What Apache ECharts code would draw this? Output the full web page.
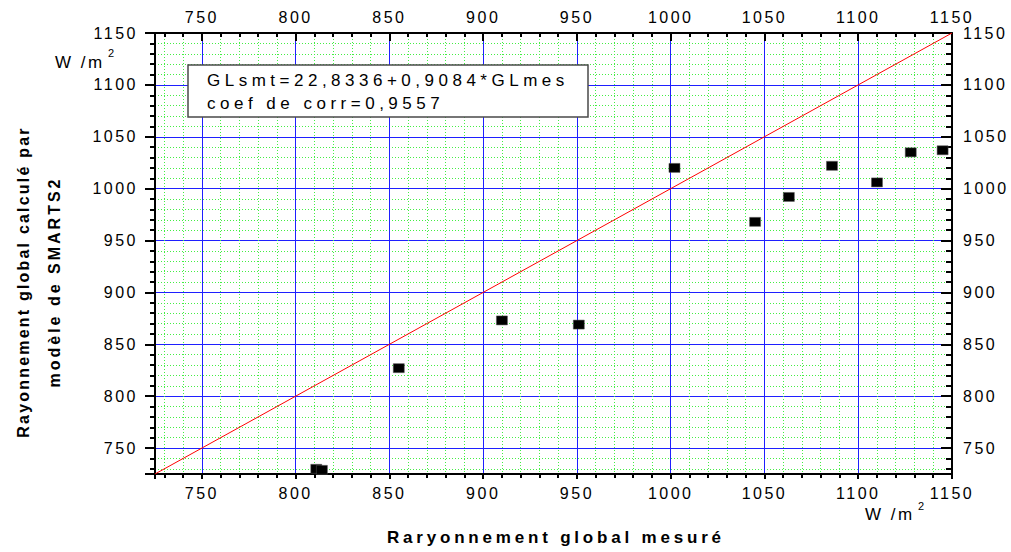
<!DOCTYPE html>
<html><head><meta charset="utf-8">
<script src="https://cdn.jsdelivr.net/npm/echarts@6/dist/echarts.min.js"></script>
<style>html,body{margin:0;padding:0;background:#fff}#c{width:1011px;height:552px}</style>
</head><body><div id="c"></div>
<script>
// ---- data ----
const measuredX = [811, 814, 855, 910, 951, 1002, 1045, 1063, 1086, 1110, 1128, 1145];
const computedY = [730, 729, 827, 873, 869, 1020, 968, 992, 1022, 1006, 1035, 1037];
const refLineX = [725, 1150];
const refLineY = [725, 1150];
const axisMin = 725;
const axisMax = 1150;
const majorStep = 50;
const equationText = 'GLsmt=22,8336+0,9084*GLmes';
const corrText = 'coef de corr=0,9557';
const xTitle = 'Raryonnement global mesuré';
const yTitle1 = 'Rayonnement global calculé par';
const yTitle2 = 'modèle de SMARTS2';
const unitText = 'W /m';
const unitSup = '2';

const FONT = '"Liberation Sans", Arial, sans-serif';
const fmt = v => (v % majorStep === 0 ? String(v) : '');

function axis(opts) {
  return Object.assign({
    type: 'value', min: axisMin, max: axisMax, splitNumber: 8,
    minInterval: majorStep, maxInterval: majorStep,
    axisLine: { show: true, onZero: false, lineStyle: { color: '#000', width: 2 } },
    axisLabel: { fontSize: 16, color: '#000', fontFamily: FONT, formatter: fmt },
    splitLine: { show: false },
    minorSplitLine: { show: false }
  }, opts);
}
const majorGrid = { show: true, lineStyle: { color: '#1f1fff', width: 1 } };
const minorGrid = { show: true, lineStyle: { color: '#44ee44', width: 1, type: [1, 2] } };

const chart = echarts.init(document.getElementById('c'), null, { renderer: 'svg' });
chart.setOption({
  animation: false,
  backgroundColor: '#fff',
  textStyle: { fontFamily: FONT },
  grid: { left: 155, right: 59, top: 33, bottom: 78, containLabel: false, outerBoundsMode: 'none' },
  xAxis: [
    axis({ position: 'bottom',
      axisTick: { inside: false, length: 5, lineStyle: { color: '#000', width: 2 } },
      minorTick: { show: true, splitNumber: 5, length: 4, lineStyle: { color: '#000', width: 2 } },
      axisLabel: { fontSize: 16, color: '#000', fontFamily: FONT, formatter: fmt, margin: 11 },
      splitLine: majorGrid, minorSplitLine: minorGrid }),
    axis({ position: 'top',
      axisTick: { inside: true, length: 8, lineStyle: { color: '#000', width: 2 } },
      minorTick: { show: true, splitNumber: 5, length: 4, lineStyle: { color: '#000', width: 2 } },
      axisLabel: { fontSize: 16, color: '#000', fontFamily: FONT, formatter: fmt, margin: 8 } })
  ],
  yAxis: [
    axis({ position: 'left',
      axisTick: { inside: false, length: 10, lineStyle: { color: '#000', width: 2 } },
      minorTick: { show: true, splitNumber: 5, length: 5, lineStyle: { color: '#000', width: 2 } },
      axisLabel: { fontSize: 16, color: '#000', fontFamily: FONT, formatter: fmt, margin: 17 },
      splitLine: majorGrid, minorSplitLine: minorGrid }),
    axis({ position: 'right',
      axisTick: { inside: true, length: 11, lineStyle: { color: '#000', width: 2 } },
      minorTick: { show: true, splitNumber: 5, length: 6, lineStyle: { color: '#000', width: 2 } },
      axisLabel: { fontSize: 16, color: '#000', fontFamily: FONT, formatter: fmt, margin: 11 } })
  ],
  series: [
    { type: 'line', xAxisIndex: 0, yAxisIndex: 0, silent: true, symbol: 'none', z: 3,
      data: refLineX.map((x, i) => [x, refLineY[i]]),
      lineStyle: { color: '#ff0000', width: 1 } },
    { type: 'scatter', xAxisIndex: 0, yAxisIndex: 0, symbol: 'rect', symbolSize: [11, 9], z: 4,
      data: measuredX.map((x, i) => [x, computedY[i]]),
      itemStyle: { color: '#000', borderColor: '#555', borderWidth: 0.5, opacity: 1 } }
  ],
  graphic: [
    { type: 'rect', z: 50, shape: { x: 188, y: 65, width: 400, height: 52 },
      style: { fill: '#fff', stroke: '#4a4a4a', lineWidth: 1.5 } },
    { type: 'text', z: 51, x: 207, y: 80,
      style: { text: equationText, fontSize: 17, fontFamily: FONT, fill: '#000', align: 'left', verticalAlign: 'middle' } },
    { type: 'text', z: 51, x: 207, y: 103,
      style: { text: corrText, fontSize: 17, fontFamily: FONT, fill: '#000', align: 'left', verticalAlign: 'middle' } },
    { type: 'text', z: 51, x: 55, y: 62,
      style: { text: unitText, fontSize: 17, fontFamily: FONT, fill: '#000', align: 'left', verticalAlign: 'middle' } },
    { type: 'text', z: 51, x: 108, y: 53,
      style: { text: unitSup, fontSize: 11, fontFamily: FONT, fill: '#000', align: 'left', verticalAlign: 'middle' } },
    { type: 'text', z: 51, x: 865, y: 514,
      style: { text: unitText, fontSize: 17, fontFamily: FONT, fill: '#000', align: 'left', verticalAlign: 'middle' } },
    { type: 'text', z: 51, x: 918, y: 506,
      style: { text: unitSup, fontSize: 11, fontFamily: FONT, fill: '#000', align: 'left', verticalAlign: 'middle' } },
    { type: 'text', z: 51, x: 387, y: 537,
      style: { text: xTitle, fontSize: 17, fontWeight: 'bold', fontFamily: FONT, fill: '#000', align: 'left', verticalAlign: 'middle' } },
    { type: 'text', z: 51, x: 23, y: 282, rotation: Math.PI / 2,
      style: { text: yTitle1, fontSize: 16, fontWeight: 'bold', fontFamily: FONT, fill: '#000', align: 'center', verticalAlign: 'middle' } },
    { type: 'text', z: 51, x: 54, y: 282, rotation: Math.PI / 2,
      style: { text: yTitle2, fontSize: 16, fontWeight: 'bold', fontFamily: FONT, fill: '#000', align: 'center', verticalAlign: 'middle' } }
  ]
});

// letter spacing (Origin-style spaced text)
function spacing() {
  const map = {};
  map[equationText] = '4.5px'; map[corrText] = '4.5px';
  map[xTitle] = '3.8px'; map[yTitle1] = '2.2px'; map[yTitle2] = '3px';
  map[unitText] = '2.5px';
  document.querySelectorAll('#c text').forEach(t => {
    const s = t.textContent;
    if (map[s]) t.style.letterSpacing = map[s];
    else if (/^\d{3,4}$/.test(s)) t.style.letterSpacing = '2.5px';
  });
}
spacing();
chart.on('finished', spacing);
setTimeout(spacing, 0);
setTimeout(spacing, 100);
</script></body></html>
